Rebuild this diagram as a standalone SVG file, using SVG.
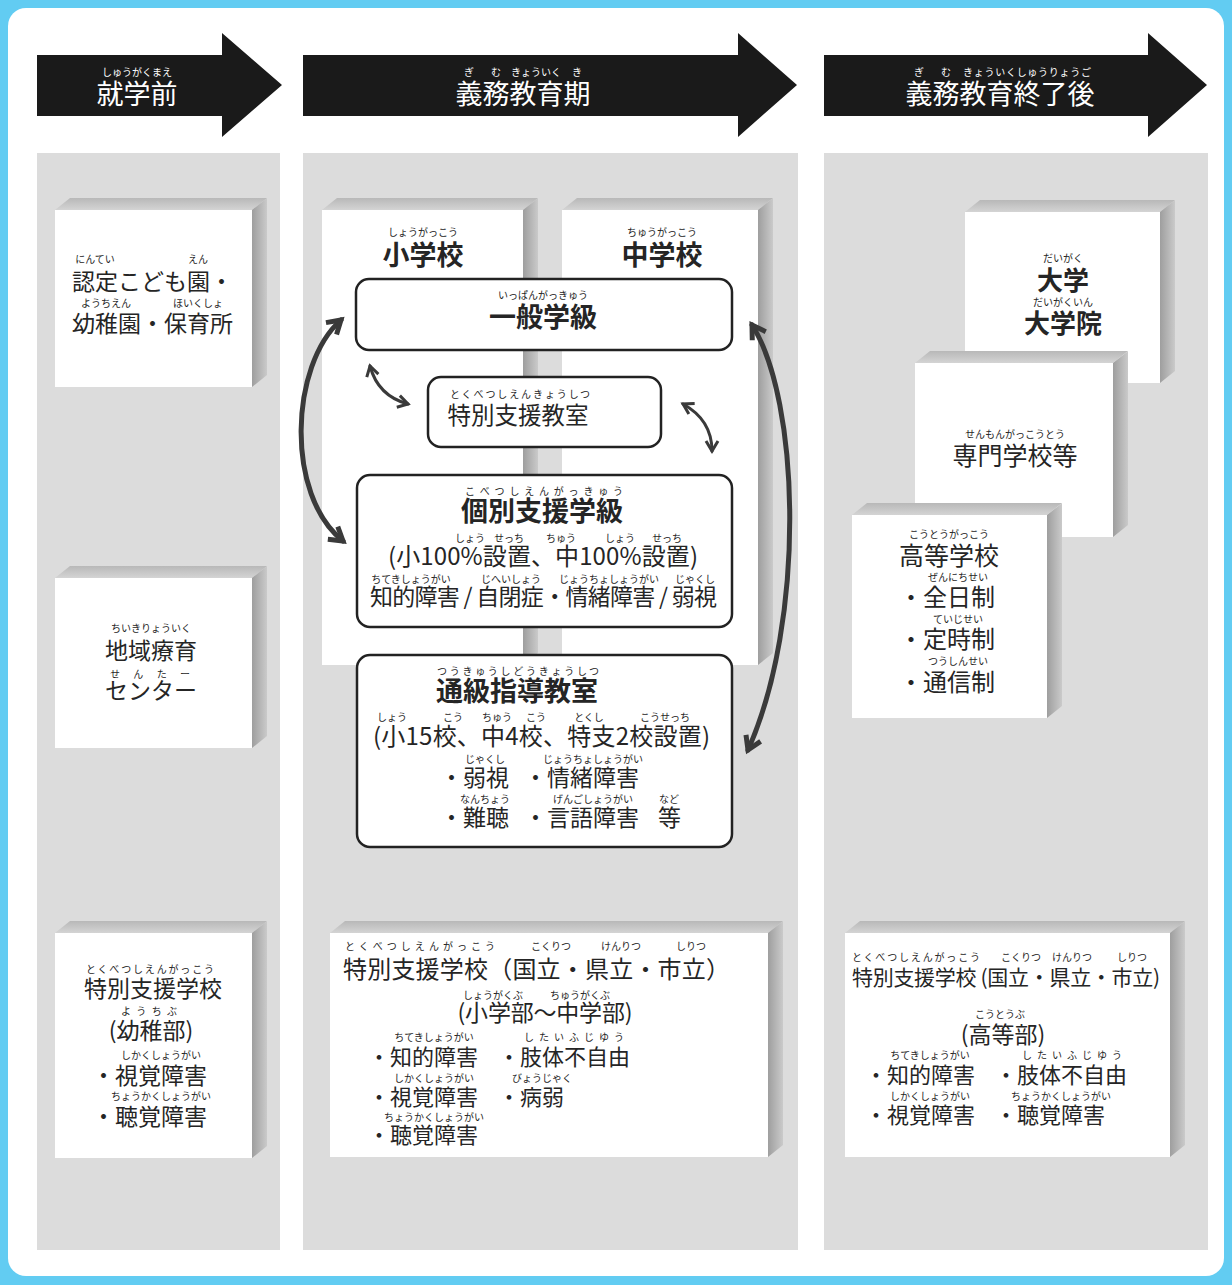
<svg xmlns="http://www.w3.org/2000/svg" width="1232" height="1285" viewBox="0 0 1232 1285">
<defs>
<style>
.jp{font-family:"Noto Sans CJK JP","Noto Sans CJK SC",sans-serif;fill:#252525;font-weight:400}
.w{fill:#ffffff}
.rb{font-size:10px;text-anchor:middle;font-weight:400}
.c{text-anchor:middle}
.b{font-weight:700}
.panel{fill:#dcdcdc}
.face{fill:#ffffff}
.top{fill:url(#gTop)}
.side{fill:url(#gSide)}
.rbox{fill:#ffffff;stroke:#222;stroke-width:2.5}
.conn{fill:none;stroke:#3a3a3a;stroke-linecap:round}
</style>
<linearGradient id="gTop" x1="0" y1="0" x2="0" y2="1"><stop offset="0" stop-color="#b8b8b8"/><stop offset="1" stop-color="#d4d4d4"/></linearGradient>
<linearGradient id="gSide" x1="0" y1="0" x2="1" y2="0"><stop offset="0" stop-color="#9e9e9e"/><stop offset="1" stop-color="#cacaca"/></linearGradient>
<marker id="mBig" markerUnits="userSpaceOnUse" viewBox="0 0 22 22" markerWidth="22" markerHeight="22" refX="17" refY="11" orient="auto-start-reverse"><path d="M4,3 L17,11 L4,19" fill="none" stroke="#3a3a3a" stroke-width="5"/></marker>
<marker id="mSm" markerUnits="userSpaceOnUse" viewBox="0 0 16 16" markerWidth="16" markerHeight="16" refX="13" refY="8" orient="auto-start-reverse"><path d="M3,2 L13,8 L3,14" fill="none" stroke="#3a3a3a" stroke-width="3"/></marker>
</defs>
<rect x="0" y="0" width="1232" height="1285" fill="#62ccf2"/>
<rect x="8" y="8" width="1216" height="1268" rx="18" fill="#ffffff"/>

<g id="headers">
<polygon points="37,55 222,55 222,33 282,85 222,137 222,116 37,116" fill="#1a1a1a"/>
<polygon points="303,55 738,55 738,33 797,85 738,137 738,116 303,116" fill="#1a1a1a"/>
<polygon points="824,55 1148,55 1148,33 1207,85 1148,137 1148,116 824,116" fill="#1a1a1a"/>
<text class="jp w c" x="137" y="104" font-size="27">就学前</text>
<text class="jp w rb" x="137" y="76">しゅうがくまえ</text>
<text class="jp w c" x="523" y="104" font-size="27">義務教育期</text>
<text class="jp w rb" x="469" y="76">ぎ</text><text class="jp w rb" x="496" y="76">む</text><text class="jp w rb" x="536" y="76">きょういく</text><text class="jp w rb" x="577" y="76">き</text>
<text class="jp w c" x="1000" y="104" font-size="27">義務教育終了後</text>
<text class="jp w rb" x="919" y="76">ぎ</text><text class="jp w rb" x="946" y="76">む</text><text class="jp w rb" x="1027" y="76" textLength="128" lengthAdjust="spacing">きょういくしゅうりょうご</text>
</g>

<g id="panels">
<rect class="panel" x="37" y="153" width="243" height="1097"/>
<rect class="panel" x="303" y="153" width="495" height="1097"/>
<rect class="panel" x="824" y="153" width="384" height="1097"/>
</g>

<g id="n-nintei">
<polygon class="top" points="55,210 70,198 267,198 252,210"/><polygon class="side" points="252,210 267,198 267,375 252,387"/>
<rect class="face" x="55" y="210" width="197" height="177"/>
<text class="jp" x="72" y="290" font-size="23">認定こども園・</text>
<text class="jp rb" x="95" y="263">にんてい</text><text class="jp rb" x="198" y="263">えん</text>
<text class="jp" x="72" y="332" font-size="23">幼稚園・保育所</text>
<text class="jp rb" x="106" y="307">ようちえん</text><text class="jp rb" x="198" y="307">ほいくしょ</text>
</g>

<g id="n-chiiki">
<polygon class="top" points="55,578 70,566 267,566 252,578"/><polygon class="side" points="252,578 267,566 267,736 252,748"/>
<rect class="face" x="55" y="578" width="197" height="170"/>
<text class="jp c" x="151" y="659" font-size="23">地域療育</text>
<text class="jp rb" x="151" y="632">ちいきりょういく</text>
<text class="jp c" x="151" y="699" font-size="23">センター</text>
<text class="jp rb" x="150" y="678" textLength="80" lengthAdjust="spacing">せんたー</text>
</g>

<g id="n-tokushi-yochi">
<polygon class="top" points="55,933 70,921 267,921 252,933"/><polygon class="side" points="252,933 267,921 267,1146 252,1158"/>
<rect class="face" x="55" y="933" width="197" height="225"/>
<text class="jp c" x="153" y="997" font-size="23">特別支援学校</text>
<text class="jp rb" x="150" y="973" textLength="128" lengthAdjust="spacing">とくべつしえんがっこう</text>
<text class="jp c" x="151" y="1039" font-size="23">(幼稚部)</text>
<text class="jp rb" x="149" y="1015" textLength="56" lengthAdjust="spacing">ようちぶ</text>
<text class="jp" x="92" y="1084" font-size="23">・視覚障害</text>
<text class="jp rb" x="161" y="1059">しかくしょうがい</text>
<text class="jp" x="92" y="1125" font-size="23">・聴覚障害</text>
<text class="jp rb" x="161" y="1100">ちょうかくしょうがい</text>
</g>

<g id="n-shogakko">
<polygon class="top" points="322,210 337,198 538,198 523,210"/><polygon class="side" points="523,210 538,198 538,653 523,665"/>
<rect class="face" x="322" y="210" width="201" height="455"/>
<text class="jp c b" x="423" y="265" font-size="27">小学校</text>
<text class="jp rb" x="423" y="236">しょうがっこう</text>
</g>

<g id="n-chugakko">
<polygon class="top" points="562,210 577,198 773,198 758,210"/><polygon class="side" points="758,210 773,198 773,653 758,665"/>
<rect class="face" x="562" y="210" width="196" height="455"/>
<text class="jp c b" x="662" y="265" font-size="27">中学校</text>
<text class="jp rb" x="662" y="236">ちゅうがっこう</text>
</g>

<g id="n-ippan">
<rect class="rbox" x="356" y="279" width="376" height="71" rx="13"/>
<text class="jp c b" x="543" y="327" font-size="27">一般学級</text>
<text class="jp rb" x="543" y="299">いっぱんがっきゅう</text>
</g>

<g id="n-tokushi-kyoshitsu">
<rect class="rbox" x="428" y="377" width="233" height="70" rx="13"/>
<text class="jp c" x="518" y="424" font-size="23.5">特別支援教室</text>
<text class="jp rb" x="520" y="398" textLength="140" lengthAdjust="spacing">とくべつしえんきょうしつ</text>
</g>

<g id="n-kobetsu">
<rect class="rbox" x="357" y="475" width="375" height="152" rx="13"/>
<text class="jp c b" x="542" y="521" font-size="27">個別支援学級</text>
<text class="jp rb" x="544" y="495" textLength="158" lengthAdjust="spacing">こべつしえんがっきゅう</text>
<text class="jp" x="388" y="565" font-size="24" textLength="310" lengthAdjust="spacing">(小100%設置、中100%設置)</text>
<text class="jp rb" x="470" y="542">しょう</text><text class="jp rb" x="509" y="542">せっち</text><text class="jp rb" x="561" y="542">ちゅう</text><text class="jp rb" x="620" y="542">しょう</text><text class="jp rb" x="667" y="542">せっち</text>
<text class="jp" x="370" y="605" font-size="23" textLength="347" lengthAdjust="spacing">知的障害 / 自閉症・情緒障害 / 弱視</text>
<text class="jp rb" x="411" y="583">ちてきしょうがい</text><text class="jp rb" x="511" y="583">じへいしょう</text><text class="jp rb" x="609" y="583">じょうちょしょうがい</text><text class="jp rb" x="695" y="583">じゃくし</text>
</g>

<g id="n-tsukyu">
<rect class="rbox" x="357" y="655" width="375" height="192" rx="13"/>
<text class="jp b" x="436" y="701" font-size="27">通級指導教室</text>
<text class="jp rb" x="518" y="675" textLength="162" lengthAdjust="spacing">つうきゅうしどうきょうしつ</text>
<text class="jp" x="373" y="745" font-size="24" textLength="337" lengthAdjust="spacing">(小15校、中4校、特支2校設置)</text>
<text class="jp rb" x="392" y="721">しょう</text><text class="jp rb" x="453" y="721">こう</text><text class="jp rb" x="497" y="721">ちゅう</text><text class="jp rb" x="536" y="721">こう</text><text class="jp rb" x="589" y="721">とくし</text><text class="jp rb" x="665" y="721">こうせっち</text>
<text class="jp" x="440" y="786" font-size="23">・弱視</text><text class="jp rb" x="485" y="763">じゃくし</text>
<text class="jp" x="524" y="786" font-size="23">・情緒障害</text><text class="jp rb" x="593" y="763">じょうちょしょうがい</text>
<text class="jp" x="440" y="826" font-size="23">・難聴</text><text class="jp rb" x="485" y="803">なんちょう</text>
<text class="jp" x="524" y="826" font-size="23">・言語障害</text><text class="jp rb" x="593" y="803">げんごしょうがい</text>
<text class="jp" x="658" y="826" font-size="23">等</text><text class="jp rb" x="669" y="803">など</text>
</g>

<g id="n-tokushi-shochu">
<polygon class="top" points="330,933 345,921 783,921 768,933"/><polygon class="side" points="768,933 783,921 783,1145 768,1157"/>
<rect class="face" x="330" y="933" width="438" height="224"/>
<text class="jp" x="343" y="978" font-size="24" textLength="387" lengthAdjust="spacing">特別支援学校（国立・県立・市立）</text>
<text class="jp rb" x="420" y="950" textLength="150" lengthAdjust="spacing">とくべつしえんがっこう</text>
<text class="jp rb" x="551" y="950">こくりつ</text><text class="jp rb" x="621" y="950">けんりつ</text><text class="jp rb" x="691" y="950">しりつ</text>
<text class="jp c" x="545" y="1021" font-size="23" textLength="175" lengthAdjust="spacing">(小学部〜中学部)</text>
<text class="jp rb" x="493" y="999">しょうがくぶ</text><text class="jp rb" x="580" y="999">ちゅうがくぶ</text>
<text class="jp" x="368" y="1065" font-size="22">・知的障害</text><text class="jp rb" x="434" y="1041">ちてきしょうがい</text>
<text class="jp" x="498" y="1065" font-size="22">・肢体不自由</text><text class="jp rb" x="574" y="1041" textLength="100" lengthAdjust="spacing">したいふじゆう</text>
<text class="jp" x="368" y="1105" font-size="22">・視覚障害</text><text class="jp rb" x="434" y="1082">しかくしょうがい</text>
<text class="jp" x="498" y="1105" font-size="22">・病弱</text><text class="jp rb" x="542" y="1082">びょうじゃく</text>
<text class="jp" x="368" y="1143" font-size="22">・聴覚障害</text><text class="jp rb" x="434" y="1121">ちょうかくしょうがい</text>
</g>

<g id="n-daigaku">
<polygon class="top" points="965,212 980,200 1175,200 1160,212"/><polygon class="side" points="1160,212 1175,200 1175,371 1160,383"/>
<rect class="face" x="965" y="212" width="195" height="171"/>
<text class="jp c b" x="1063" y="290" font-size="26">大学</text>
<text class="jp rb" x="1063" y="262">だいがく</text>
<text class="jp c b" x="1063" y="333" font-size="26">大学院</text>
<text class="jp rb" x="1063" y="306">だいがくいん</text>
</g>

<g id="n-senmon">
<polygon class="top" points="915,363 930,351 1128,351 1113,363"/><polygon class="side" points="1113,363 1128,351 1128,525 1113,537"/>
<rect class="face" x="915" y="363" width="198" height="174"/>
<text class="jp c" x="1015" y="465" font-size="25">専門学校等</text>
<text class="jp rb" x="1015" y="438">せんもんがっこうとう</text>
</g>

<g id="n-koko">
<polygon class="top" points="852,515 867,503 1062,503 1047,515"/><polygon class="side" points="1047,515 1062,503 1062,706 1047,718"/>
<rect class="face" x="852" y="515" width="195" height="203"/>
<text class="jp c" x="949" y="565" font-size="25">高等学校</text>
<text class="jp rb" x="949" y="538">こうとうがっこう</text>
<text class="jp" x="899" y="606" font-size="24">・全日制</text><text class="jp rb" x="958" y="581">ぜんにちせい</text>
<text class="jp" x="899" y="648" font-size="24">・定時制</text><text class="jp rb" x="958" y="623">ていじせい</text>
<text class="jp" x="899" y="691" font-size="24">・通信制</text><text class="jp rb" x="958" y="665">つうしんせい</text>
</g>

<g id="n-tokushi-koto">
<polygon class="top" points="845,933 860,921 1185,921 1170,933"/><polygon class="side" points="1170,933 1185,921 1185,1145 1170,1157"/>
<rect class="face" x="845" y="933" width="325" height="224"/>
<text class="jp" x="852" y="985" font-size="21" textLength="308" lengthAdjust="spacing">特別支援学校 (国立・県立・市立)</text>
<text class="jp rb" x="916" y="961" textLength="128" lengthAdjust="spacing">とくべつしえんがっこう</text>
<text class="jp rb" x="1021" y="961">こくりつ</text><text class="jp rb" x="1072" y="961">けんりつ</text><text class="jp rb" x="1132" y="961">しりつ</text>
<text class="jp c" x="1003" y="1043" font-size="23">(高等部)</text><text class="jp rb" x="1000" y="1018">こうとうぶ</text>
<text class="jp" x="865" y="1083" font-size="22">・知的障害</text><text class="jp rb" x="930" y="1059">ちてきしょうがい</text>
<text class="jp" x="995" y="1083" font-size="22">・肢体不自由</text><text class="jp rb" x="1072" y="1059" textLength="100" lengthAdjust="spacing">したいふじゆう</text>
<text class="jp" x="865" y="1123" font-size="22">・視覚障害</text><text class="jp rb" x="930" y="1100">しかくしょうがい</text>
<text class="jp" x="995" y="1123" font-size="22">・聴覚障害</text><text class="jp rb" x="1061" y="1100">ちょうかくしょうがい</text>
</g>

<g id="connectors">
<path class="conn" stroke-width="5" d="M341,320 C290,365 285,495 343,541" marker-start="url(#mBig)" marker-end="url(#mBig)"/>
<path class="conn" stroke-width="5" d="M752,325 C800,400 806,620 748,750" marker-start="url(#mBig)" marker-end="url(#mBig)"/>
<path class="conn" stroke-width="3" d="M370,366 Q378,396 408,404" marker-start="url(#mSm)" marker-end="url(#mSm)"/>
<path class="conn" stroke-width="3" d="M683,404 Q712,420 712,451" marker-start="url(#mSm)" marker-end="url(#mSm)"/>
</g>
</svg>
